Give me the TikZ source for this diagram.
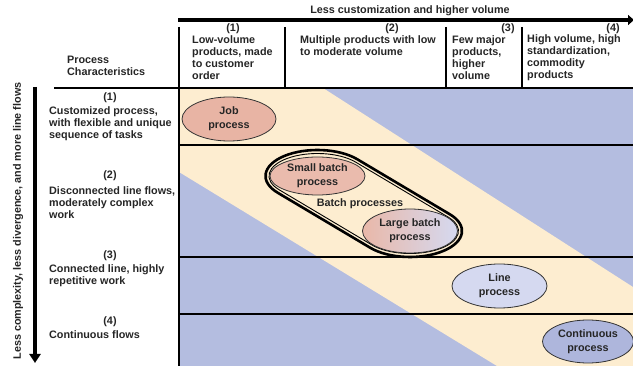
\documentclass[tikz,border=0pt]{standalone}
\usepackage{fontspec}
\setmainfont{Liberation Sans}
\usetikzlibrary{arrows.meta,calc,shapes.geometric}
\definecolor{bgblue}{HTML}{B4BDE0}
\definecolor{bgbeige}{HTML}{FDEDD0}
\definecolor{salmon}{HTML}{E8B4A4}
\definecolor{lilac}{HTML}{D5D9F0}
\definecolor{slate}{HTML}{AEB6DC}
\definecolor{txt}{HTML}{262626}
\tikzset{
  lbl/.style={font=\fontsize{10.8}{12}\selectfont\bfseries, text=txt, inner sep=0pt},
  lbltxt/.style={lbl, align=left, anchor=west},
  proc/.style={ellipse, draw=black!80, line width=0.8pt, lbl, align=center,
    font=\fontsize{10.8}{14}\selectfont\bfseries, minimum width=95pt, minimum height=44pt},
  gridline/.style={line width=2pt},
}
\begin{document}
\begin{tikzpicture}[x=1pt,y=-1pt]
\useasboundingbox (0,0) rectangle (633,366);
\fill [white] (0,0) rectangle (633,366);
\fill [bgblue] (179,88) rectangle (633,366);
\fill [bgbeige] (179,88)--(323,88)--(633,287)--(633,366)--(497,366)--(179,172)--cycle;
\draw [gridline] (54,88)--(633,88);
\draw [gridline] (179,145)--(633,145);
\draw [gridline] (179,257)--(633,257);
\draw [gridline] (179,314)--(633,314);
\draw [gridline] (179,27)--(179,366);
\draw [gridline] (285,27)--(285,88);
\draw [gridline] (446,27)--(446,88);
\draw [gridline] (522,27)--(522,88);
\coordinate (hstart) at (178,20);
\coordinate (hend) at (634,20);
\draw [line width=4.5pt,-{Triangle[length=6pt,width=10pt]}] (hstart)--(hend);
\coordinate (vstart) at (35,87);
\coordinate (vend) at (35,363);
\draw [line width=4pt,-{Triangle[length=9pt,width=11pt]}] (vstart)--(vend);
\node [lbl] (toplbl) at (410,11) {Less customization and higher volume};
\node [lbl,rotate=90] (vlbl) at (18,221) {Less complexity, less divergence, and more line flows};
\node [lbltxt] (pchar) at (67,66) {Process\\Characteristics};
\node [lbl] (c1num) at (233,29) {(1)};
\node [lbltxt] (c1txt) at (192,58) {Low-volume\\products, made\\to customer\\order};
\node [lbl] (c2num) at (392,29) {(2)};
\node [lbltxt] (c2txt) at (300,46) {Multiple products with low\\to moderate volume};
\node [lbl] (c3num) at (508,29) {(3)};
\node [lbltxt] (c3txt) at (452,58) {Few major\\products,\\higher\\volume};
\node [lbl] (c4num) at (613,29) {(4)};
\node [lbltxt] (c4txt) at (527,58) {High volume, high\\standardization,\\commodity\\products};
\node [lbl] (r1num) at (110,98) {(1)};
\node [lbltxt] (r1txt) at (49,124) {Customized process,\\with flexible and unique\\sequence of tasks};
\node [lbl] (r2num) at (110,176) {(2)};
\node [lbltxt] (r2txt) at (49,203) {Disconnected line flows,\\moderately complex\\work};
\node [lbl] (r3num) at (110,256) {(3)};
\node [lbltxt] (r3txt) at (49,276) {Connected line, highly\\repetitive work};
\node [lbl] (r4num) at (110,322) {(4)};
\node [lbltxt] (r4txt) at (49,335) {Continuous flows};
\coordinate (sbc) at (317.5,176);
\coordinate (lbc) at (410,231);
\draw [line width=2.6pt] ($(sbc)+(-40.1:52 and 26)$)--($(lbc)+(-40.1:52 and 26)$)
  arc[start angle=-40.1,end angle=139.9,x radius=52,y radius=26]
  --($(sbc)+(139.9:52 and 26)$)
  arc[start angle=139.9,end angle=319.9,x radius=52,y radius=26]--cycle;
\draw [line width=0.9pt] ($(sbc)+(-38:48.5 and 22.5)$)--($(lbc)+(-38:48.5 and 22.5)$)
  arc[start angle=-38,end angle=142,x radius=48.5,y radius=22.5]
  --($(sbc)+(142:48.5 and 22.5)$)
  arc[start angle=142,end angle=322,x radius=48.5,y radius=22.5]--cycle;
\node [proc,fill=salmon,minimum width=94pt] (job) at (229,119) {Job\\process};
\node [proc,fill=salmon!90!white,minimum height=38pt] (smallbatch) at (sbc) {Small batch\\process};
\node [proc,left color=salmon!95!white,right color=lilac] (largebatch) at (lbc) {Large batch\\process};
\node [lbl] (batchlbl) at (360,204) {Batch processes};
\node [proc,fill=lilac] (lineproc) at (499.5,286) {Line\\process};
\node [proc,fill=slate,minimum width=91pt,minimum height=43pt] (continuous) at (588,341.5) {Continuous\\process};
\end{tikzpicture}
\end{document}
